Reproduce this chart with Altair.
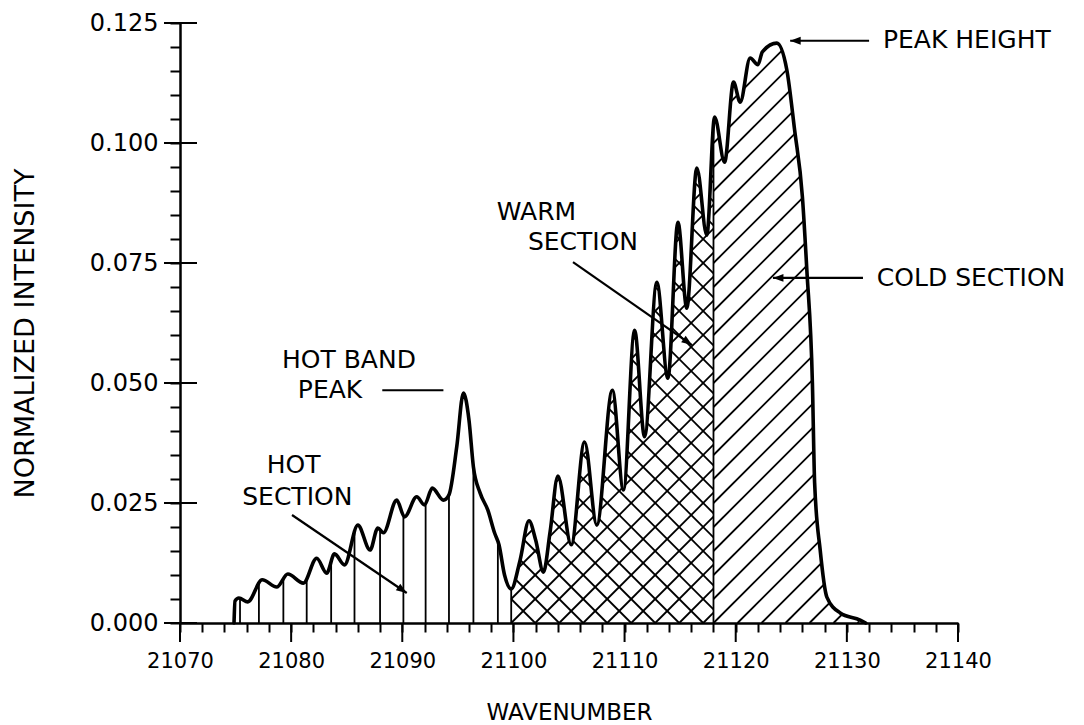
import math
import numpy as np
import pandas as pd
import altair as alt

# ---------------- data ----------------
wavenumber = [21074.86, 21074.95, 21075.3, 21076.1, 21077.4, 21078.7, 21079.7, 21081.1,
              21082.3, 21083.2, 21083.9, 21084.8, 21086.0, 21087.1, 21087.8, 21088.3,
              21089.5, 21090.2, 21091.3, 21092.0, 21092.7, 21093.7, 21094.2, 21094.9,
              21095.5, 21096.0, 21096.4, 21097.0, 21097.7, 21098.3, 21098.7, 21099.2,
              21099.8, 21100.6, 21101.4, 21102.0, 21102.7, 21103.3, 21104.0, 21105.2,
              21106.4, 21107.5, 21108.9, 21109.9, 21110.9, 21111.8, 21112.9, 21113.9,
              21114.8, 21115.6, 21116.5, 21117.4, 21118.1, 21119.0, 21119.8, 21120.4,
              21121.3, 21122.0, 21122.4, 21123.7, 21124.6, 21125.3, 21126.0, 21126.4,
              21126.9, 21127.1, 21127.6, 21128.2, 21129.4, 21131.2, 21131.7]
intensity = [0.0, 0.0046, 0.0052, 0.0044, 0.0090, 0.0075, 0.0102, 0.0083,
             0.0135, 0.0104, 0.0144, 0.0121, 0.0204, 0.0152, 0.0198, 0.0188,
             0.0256, 0.0221, 0.0263, 0.0246, 0.0281, 0.0256, 0.0267, 0.0367,
             0.0479, 0.0423, 0.0325, 0.0271, 0.0235, 0.0188, 0.0163, 0.0100,
             0.0071, 0.0131, 0.0213, 0.0173, 0.0106, 0.0190, 0.0306, 0.0163,
             0.0377, 0.0204, 0.0485, 0.0277, 0.0610, 0.0388, 0.0710, 0.0510,
             0.0835, 0.0656, 0.0948, 0.0808, 0.1054, 0.0960, 0.1127, 0.1085,
             0.1177, 0.1163, 0.1190, 0.1208, 0.1152, 0.1027, 0.0888, 0.0735,
             0.0500, 0.0292, 0.0152, 0.0054, 0.0021, 0.0006, 0.0]

# section limits
hot_start = 21074.86
hot_warm_edge = 21099.8
warm_cold_edge = 21118.0
cold_end = 21131.7

# vertical hatch positions of the hot section
hot_hatch_x = [21075.4, 21077.1, 21079.3, 21081.4, 21083.6, 21085.7, 21088.0,
               21090.1, 21092.1, 21094.2, 21096.4, 21098.6, 21099.8]

# annotations
label_text = ["PEAK HEIGHT", "COLD SECTION", "WARM", "SECTION", "HOT BAND", "PEAK", "HOT", "SECTION"]
label_x = [21133.25, 21132.7, 21098.5, 21101.3, 21079.18, 21080.6, 21077.8, 21075.6]
label_y = [0.1215, 0.0719, 0.0856, 0.0794, 0.0548, 0.0485, 0.0330, 0.02625]

arrow_x1 = [21132.0, 21131.45, 21105.36, 21080.08]
arrow_y1 = [0.1213, 0.0719, 0.0752, 0.0225]
arrow_x2 = [21124.9, 21123.35, 21116.07, 21090.4]
arrow_y2 = [0.1213, 0.0719, 0.0579, 0.00625]

dash_x1 = [21088.2]
dash_y1 = [0.0485]
dash_x2 = [21093.7]
dash_y2 = [0.0485]

x_major = [21070, 21080, 21090, 21100, 21110, 21120, 21130, 21140]
y_major = [0.0, 0.025, 0.05, 0.075, 0.1, 0.125]

# ---------------- layout ----------------
W, H = 778, 600
XMIN, XMAX = 21070, 21140
YMIN, YMAX = 0.0, 0.125
PXX = W / (XMAX - XMIN)
PXY = H / (YMAX - YMIN)
FONT = "DejaVu Sans"

curve = pd.DataFrame({"wn": wavenumber, "I": intensity})

# hatch geometry (45 degrees on screen)
m = PXX / PXY
step = 24 / PXX
ytop = 0.127


def clip(a, s, xl, xr):
    if s > 0:
        lo, hi = max(xl, a), min(xr, a + ytop / s)
    else:
        lo, hi = max(xl, a + ytop / s), min(xr, a)
    if hi - lo <= 1e-9:
        return None
    return (lo, s * (lo - a), hi, s * (hi - a))


segs = []
for xv in hot_hatch_x:
    segs.append((xv, 0.0, xv, ytop))
segs.append((warm_cold_edge, 0.0, warm_cold_edge, ytop))
for k in range(-40, 40):
    a = hot_warm_edge + k * step
    for s in (m, -m):
        r = clip(a, s, hot_warm_edge, warm_cold_edge)
        if r:
            segs.append(r)
for k in range(-40, 40):
    a = warm_cold_edge + k * step
    r = clip(a, m, warm_cold_edge, cold_end - 0.6)
    if r:
        segs.append(r)
hatch = pd.DataFrame(segs, columns=["x", "y", "x2", "y2"])

xs = alt.Scale(domain=[XMIN, XMAX], nice=False, zero=False)
ys = alt.Scale(domain=[YMIN, YMAX], nice=False, zero=True)

xaxis = alt.Axis(
    values=list(range(XMIN, XMAX + 1, 2)),
    labelExpr="datum.value % 10 == 0 ? format(datum.value, 'd') : ''",
    grid=False, tickSize=9, tickWidth=2, tickColor="black",
    domainColor="black", domainWidth=2.5, labelFont=FONT, labelFontSize=21,
    labelColor="black", labelPadding=18, labelFlush=False, labelOverlap=False,
    title="WAVENUMBER", titleFont=FONT, titleFontSize=23, titleFontWeight="normal",
    titleColor="black", titleX=W / 2, titleY=89, titleBaseline="middle",
    titleAlign="center", zindex=2,
)
yaxis = alt.Axis(
    values=[round(i * 0.005, 3) for i in range(26)],
    labelExpr="abs(datum.value * 40 - round(datum.value * 40)) < 0.01 ? format(datum.value, '.3f') : ''",
    grid=False, tickSize=10, tickWidth=2, tickColor="black",
    domainColor="black", domainWidth=2.5, labelFont=FONT, labelFontSize=24,
    labelColor="black", labelPadding=12, labelFlush=False, labelOverlap=False,
    title="NORMALIZED INTENSITY", titleFont=FONT, titleFontSize=27,
    titleFontWeight="normal", titleColor="black", titleX=-155, titleY=H / 2 + 10,
    titleBaseline="middle", titleAlign="center", titleAngle=270, zindex=2,
)


def X(field):
    return alt.X(field, type="quantitative", scale=xs, axis=xaxis)


def Y(field):
    return alt.Y(field, type="quantitative", scale=ys, axis=yaxis)


hatch_layer = alt.Chart(hatch).mark_rule(color="black", strokeWidth=1.8).encode(
    x=X("x"), y=Y("y"), x2="x2", y2="y2")

mask = alt.Chart(curve).mark_area(color="white", interpolate="monotone", opacity=1).encode(
    x=X("wn"), y=Y("I"), y2=alt.datum(0.13))

line = alt.Chart(curve).mark_line(color="black", strokeWidth=3.6, interpolate="monotone",
                                  strokeJoin="round", strokeCap="round").encode(
    x=X("wn"), y=Y("I"))

xmaj = alt.Chart(pd.DataFrame({"v": x_major})).mark_rule(color="black", strokeWidth=2).encode(
    x=X("v"), y=alt.value(H), y2=alt.value(H + 19))
ymaj = alt.Chart(pd.DataFrame({"v": y_major})).mark_rule(color="black", strokeWidth=2).encode(
    y=Y("v"), x=alt.value(-16), x2=alt.value(17))

labels = alt.Chart(pd.DataFrame({"t": label_text, "x": label_x, "y": label_y})).mark_text(
    align="left", baseline="middle", font=FONT, fontSize=25, color="black").encode(
    x=X("x"), y=Y("y"), text="t")

arr = pd.DataFrame({"x": arrow_x1, "y": arrow_y1, "x2": arrow_x2, "y2": arrow_y2})
arr["ang"] = [math.degrees(math.atan2(-(b2 - b1) * PXY, (a2 - a1) * PXX)) % 360
              for a1, b1, a2, b2 in zip(arrow_x1, arrow_y1, arrow_x2, arrow_y2)]
arrow_lines = alt.Chart(arr).mark_rule(color="black", strokeWidth=2.2).encode(
    x=X("x"), y=Y("y"), x2="x2", y2="y2")
arrow_heads = alt.Chart(arr).mark_point(
    shape="M 0 0 L -2 -0.75 L -2 0.75 Z", filled=True, color="black", opacity=1, size=110,
    strokeWidth=0).encode(x=X("x2"), y=Y("y2"), angle=alt.Angle("ang:Q", scale=None))

dash = alt.Chart(pd.DataFrame({"x": dash_x1, "y": dash_y1, "x2": dash_x2, "y2": dash_y2})).mark_rule(
    color="black", strokeWidth=2).encode(x=X("x"), y=Y("y"), x2="x2", y2="y2")

chart = alt.layer(hatch_layer, mask, line, xmaj, ymaj, arrow_lines, arrow_heads, dash, labels).properties(
    width=W, height=H,
    autosize=alt.AutoSizeParams(type="none"),
    padding={"left": 180, "top": 23, "right": 1084 - 180 - W, "bottom": 725 - 23 - H},
    background="white",
).configure_view(stroke=None)

chart.save("out.html", embed_options={"renderer": "svg", "actions": False})
